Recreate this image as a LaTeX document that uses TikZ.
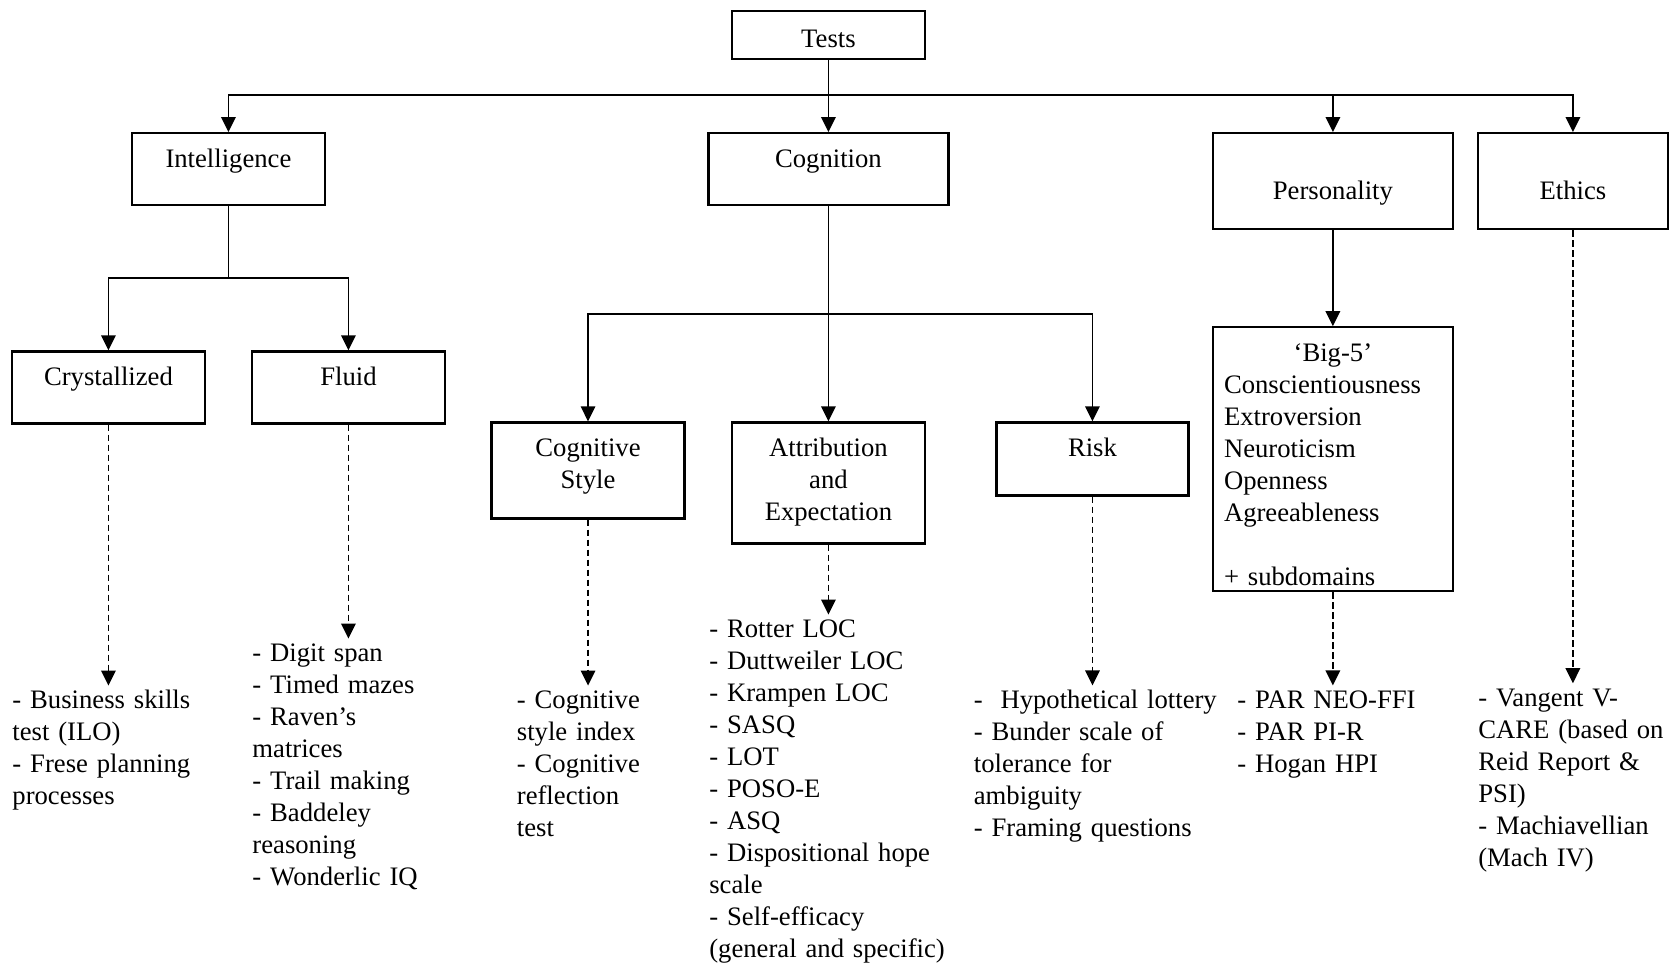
\documentclass[tikz,border=0pt]{standalone}
\usepackage{fontspec}
\setmainfont{Liberation Serif}
\usepackage{tikz}
\usetikzlibrary{positioning,arrows.meta}
\tikzset{>={Triangle[width=6.5pt,length=6.75pt]}}
\tikzset{
	box/.style={draw, line width=1pt, inner xsep=2pt, inner ysep=0pt, minimum width=86.85pt, align=center, text height=15.5pt},
	widebox/.style={box, minimum width=108pt},
	itemlist/.style={inner sep=0pt, text width=115pt, align=left, anchor=north west, text height=10.2pt},
	link/.style={->, line width=0.8pt},
	dlink/.style={->, line width=0.8pt, dash pattern=on 3pt off 1.5pt},
}

\begin{document}
\begin{tikzpicture}[font=\fontsize{12pt}{14.4pt}\selectfont]
		\useasboundingbox (0,0) rectangle (751.05pt,-433.35pt);
		
		\node(tests) [box, text height=16.4pt, text depth=5.2pt] at (372.8pt,-15.75pt) {Tests};
		
		\node(intel) [box, text depth=16.9pt, below=32.4pt of tests, xshift=-270pt] {Intelligence};
		\node(cogn) [widebox, text depth=16.9pt, below=32.4pt of tests] {Cognition};
		\node(pers) [widebox, text height=30pt, text depth=13.15pt, below=32.4pt of tests, xshift=227pt] {Personality};
		\node(eth) [box, minimum width=85.5pt, text height=30pt, text depth=13.15pt, below=32.4pt of tests, xshift=335pt] {Ethics};
		
		\node(crys) [box, text depth=16.9pt, below=64.8pt of intel, xshift=-54pt] {Crystallized};
		\node(fluid) [box, text depth=16.9pt, below=64.8pt of intel, xshift=54pt] {Fluid};
		
		\node(cogsty) [box, text width=82.85pt, text depth=27.7pt, below=96.75pt of cogn, xshift=-108.2pt] {Cognitive\\Style};
		\node(attr) [box, text width=82.85pt, text depth=38.95pt, below=96.75pt of cogn] {Attribution\\and\\Expectation};
		\node(risk) [box, minimum width=86.4pt, text depth=17.35pt, below=96.75pt of cogn, xshift=118.8pt] {Risk};
		
		\node(big5) [widebox, align=left, text width=98pt, inner xsep=5pt, text height=15.4pt, text depth=103.4pt, below=43.2pt of pers]
			{{\centering ‘Big-5’\par}Conscientiousness\\Extroversion\\Neuroticism\\Openness\\Agreeableness\\[14.4pt]+ subdomains};
		
		% lists of tests
		\node(crysl) [below=117.45pt of crys, itemlist, xshift=-43.4pt] {- Business skills\\test (ILO)\\- Frese planning\\processes};
		\node(fluidl) [below=96.3pt of fluid, itemlist, xshift=-43.4pt] {- Digit span\\- Timed mazes\\- Raven’s\\matrices\\- Trail making\\- Baddeley\\reasoning\\- Wonderlic IQ};
		\node(cogl) [below=74.7pt of cogsty, itemlist, xshift=-32.2pt] {- Cognitive\\style index\\- Cognitive\\reflection\\test};
		\node(attrl) [below=31.5pt of attr, itemlist, xshift=-53.8pt] {- Rotter LOC\\- Duttweiler LOC\\- Krampen LOC\\- SASQ\\- LOT\\- POSO-E\\- ASQ\\- Dispositional hope\\scale\\- Self-efficacy\\(general and specific)};
		\node(riskl) [below=85pt of risk, itemlist, xshift=-53.55pt] {-\ \ Hypothetical lottery\\- Bunder scale of\\tolerance for\\ambiguity\\- Framing questions};
		\node(persl) [below=41.85pt of big5, itemlist, xshift=-43.2pt] {- PAR NEO-FFI\\- PAR PI-R\\- Hogan HPI};
		\node(ethl) [below=203.85pt of eth, itemlist, xshift=-42.75pt] {- Vangent V-\\CARE (based on\\Reid Report \&\\PSI)\\- Machiavellian\\(Mach IV)};
		
		\draw[link] (tests.south) -- ++(0,-15.75pt) -| (intel.north);
		\draw[link] (tests.south) -- (tests.south |- cogn.north);
		\draw[link] (tests.south) -- ++(0,-15.75pt) -| (pers.north);
		\draw[link] (tests.south) -- ++(0,-15.75pt) -| (eth.north);
		
		\draw[link] (intel.south) -- ++(0,-32.4pt) -| (crys.north);
		\draw[link] (intel.south) -- ++(0,-32.4pt) -| (fluid.north);
		
		\draw[link] (cogn.south) -- ++(0,-48.6pt) -| (cogsty.north);
		\draw[link] (cogn.south) -- (cogn.south |- attr.north);
		\draw[link] (cogn.south) -- ++(0,-48.6pt) -| (risk.north);
		
		\draw[link] (pers) -- (big5);
		
		\draw[dlink] (crys.south) -- (crys.south |- crysl.north);
		\draw[dlink] (fluid.south) -- (fluid.south |- fluidl.north);
		\draw[dlink] (cogsty.south) -- (cogsty.south |- cogl.north);
		\draw[dlink] (attr.south) -- (attr.south |- attrl.north);
		\draw[dlink] (risk.south) -- (risk.south |- riskl.north);
		\draw[dlink] (big5.south) -- (big5.south |- persl.north);
		\draw[dlink] (eth.south) -- (eth.south |- ethl.north);
	\end{tikzpicture}
\end{document}
